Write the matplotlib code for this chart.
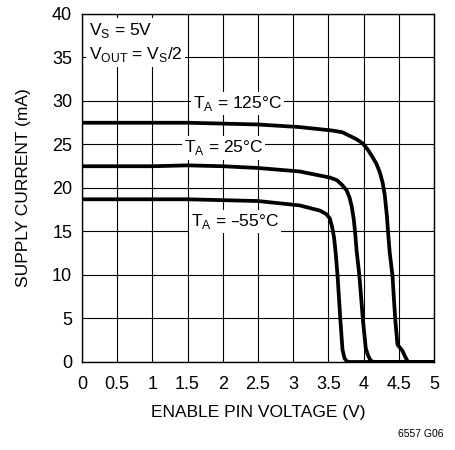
import matplotlib.pyplot as plt
import numpy as np

plt.rcParams['font.family'] = ['Liberation Sans', 'DejaVu Sans']

# ====== Data =====
v_125 = [0, 0.5, 1.0, 1.5, 2.0, 2.5, 3.09, 3.56, 3.70, 3.80, 3.90, 3.99, 4.06, 4.13, 4.18, 4.23, 4.27, 4.30, 4.33,
         4.35, 4.37, 4.41, 4.43, 4.45, 4.48, 4.52, 4.55, 4.59, 4.63, 5.0]
i_125 = [27.5, 27.5, 27.5, 27.5, 27.4, 27.3, 27.0, 26.6, 26.4, 26.0, 25.6, 25.1, 24.4, 23.5, 22.8, 21.8, 20.6, 19.2,
         16.8, 14.6, 12.6, 9.9, 7.2, 4.8, 2.0, 1.6, 1.3, 0.6, 0.0, 0.0]

v_25 = [0, 0.5, 1.0, 1.5, 2.0, 2.5, 3.09, 3.52, 3.62, 3.70, 3.76, 3.80, 3.83, 3.86, 3.88, 3.90, 3.94, 3.99, 4.03,
        4.06, 4.09, 4.13, 5.0]
i_25 = [22.5, 22.5, 22.5, 22.6, 22.5, 22.3, 21.9, 21.2, 20.9, 20.3, 19.7, 18.9, 17.9, 16.4, 14.8, 12.8, 9.9, 4.8,
        1.6, 0.8, 0.3, 0.0, 0.0]

v_m55 = [0, 0.5, 1.0, 1.5, 2.0, 2.5, 3.09, 3.38, 3.47, 3.52, 3.55, 3.58, 3.60, 3.63, 3.67, 3.70, 3.73, 3.77, 5.0]
i_m55 = [18.7, 18.7, 18.7, 18.7, 18.6, 18.5, 18.0, 17.4, 17.0, 16.5, 15.6, 14.3, 12.8, 9.9, 4.8, 1.4, 0.4, 0.0, 0.0]

fig = plt.figure(figsize=(4.55, 4.5), dpi=100)
axs = fig.add_axes([0.180, 0.1956, 0.774, 0.7733])

for v, i in [(v_125, i_125), (v_25, i_25), (v_m55, i_m55)]:
    axs.plot(v, i, color='black', linewidth=2.7, solid_joinstyle='round', zorder=3)

axs.set_xlim(0, 5)
axs.set_ylim(0, 40)
axs.set_xticks(np.arange(0, 5.01, 0.5))
axs.set_xticklabels(['0', '0.5', '1', '1.5', '2', '2.5', '3', '3.5', '4', '4.5', '5'])
axs.set_yticks(np.arange(0, 40.1, 5))
axs.tick_params(length=0, labelsize=13)
axs.tick_params(axis='x', pad=10)
axs.tick_params(axis='y', pad=7)
axs.grid(True, color='black', linewidth=0.8)
for s in axs.spines.values():
    s.set_linewidth(1.0)

axs.set_xlabel("ENABLE PIN VOLTAGE (V)", fontsize=12.5, labelpad=9)
axs.set_ylabel("SUPPLY CURRENT (mA)", fontsize=12.5, labelpad=15)

box = dict(facecolor='white', edgecolor='none', pad=1.5)
axs.text(1.58, 29.7, r'T$_\mathregular{A}$ = 125°C', fontsize=12.5, va='center', bbox=box, zorder=4)
axs.text(1.45, 24.6, r'T$_\mathregular{A}$ = 25°C', fontsize=12.5, va='center', bbox=box, zorder=4)
axs.text(1.55, 16.1, r'T$_\mathregular{A}$ = –55°C', fontsize=12.5, va='center', bbox=box, zorder=4)
axs.text(0.1, 39.2, 'V$_\\mathregular{S}$ = 5V\nV$_\\mathregular{OUT}$ = V$_\\mathregular{S}$/2',
         fontsize=12.5, va='top', linespacing=1.35, bbox=dict(facecolor='white', edgecolor='none', pad=2), zorder=4)

fig.text(0.925, 0.028, '6557 G06', fontsize=7.5, ha='center')

fig.savefig('out.png', dpi=100)
